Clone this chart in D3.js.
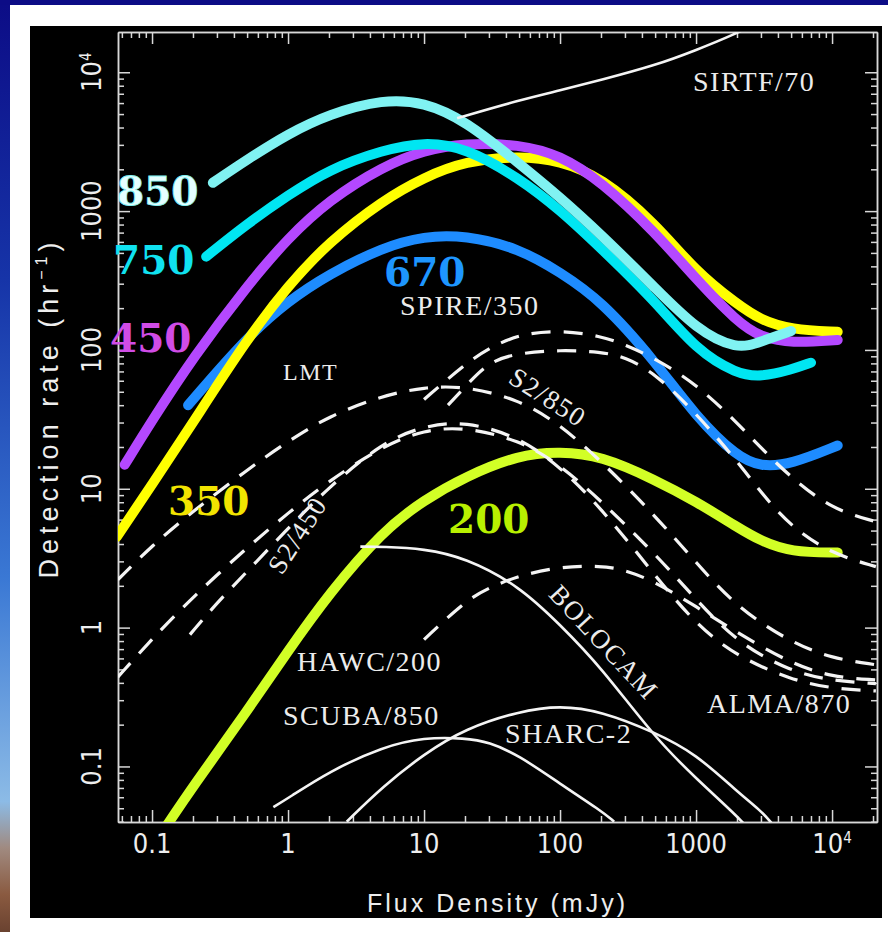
<!DOCTYPE html>
<html>
<head>
<meta charset="utf-8">
<script src="https://cdn.jsdelivr.net/npm/d3@7"></script>
<style>
  html, body { margin: 0; padding: 0; background: #fff; }
  svg { display: block; }
</style>
</head>
<body>
<svg id="chart" width="888" height="932"></svg>
<script>
// ---------------- data: detection rate (hr^-1) versus flux density (mJy) ----------------
// colour-coded wavelength curves (µm)
const flux850 = [0.28, 0.5, 1, 2, 5, 10, 20, 50, 100, 200, 500, 1000, 2000, 3000, 5000];
const rate850 = [1600, 2350, 3600, 5000, 6400, 6100, 4500, 2210, 1260, 680, 280, 141, 100, 115, 137];

const flux750 = [0.25, 0.5, 1, 2, 5, 10, 20, 50, 100, 200, 500, 1000, 2000, 3000, 5000, 7000];
const rate750 = [470, 810, 1300, 2000, 2760, 3150, 2880, 1730, 1020, 540, 225, 100, 67, 64, 72, 81];

const flux450 = [0.063, 0.1, 0.2, 0.5, 1, 2, 5, 10, 20, 50, 100, 200, 500, 1000, 2000, 3000, 5000, 11000];
const rate450 = [14.9, 31, 88, 290, 640, 1200, 2100, 2750, 3080, 3030, 2530, 1640, 705, 323, 160, 123, 112, 118];

const flux350 = [0.055, 0.1, 0.2, 0.5, 1, 2, 5, 10, 20, 50, 100, 200, 500, 1000, 2000, 3000, 5000, 11000];
const rate350 = [4.5, 10.7, 30, 120, 290, 600, 1200, 1750, 2290, 2500, 2300, 1760, 820, 365, 214, 164, 140, 135];

const flux670 = [0.184, 0.2, 0.5, 1, 2, 5, 10, 20, 50, 100, 200, 500, 1000, 2000, 3000, 5000, 11000];
const rate670 = [40, 44, 124, 225, 352, 550, 660, 670, 540, 363, 228, 83, 33, 17, 14.4, 15, 20.5];

const flux200 = [0.115, 0.2, 0.5, 1, 2, 5, 10, 20, 50, 100, 200, 500, 1000, 2000, 3000, 5000, 11000];
const rate200 = [0.032, 0.072, 0.25, 0.68, 1.76, 5.0, 8.3, 12.2, 17.6, 18.5, 17.3, 11.6, 8.1, 5.3, 4.2, 3.5, 3.47];

// existing / planned instruments, solid lines
const fluxSIRTF = [17.5, 50, 100, 200, 500, 1000, 2000, 2500];
const rateSIRTF = [4670, 6300, 7400, 8800, 11200, 14400, 19100, 21500];

const fluxBOLOCAM = [3.4, 5, 10, 20, 50, 100, 200, 500, 1000, 2000, 2400];
const rateBOLOCAM = [3.83, 3.83, 3.7, 3.2, 2.0, 1.05, 0.52, 0.16, 0.082, 0.044, 0.036];

const fluxSCUBA = [0.78, 1, 2, 5, 10, 20, 30, 50, 100, 200, 250];
const rateSCUBA = [0.051, 0.059, 0.092, 0.139, 0.162, 0.16, 0.15, 0.12, 0.075, 0.048, 0.04];

const fluxSHARC = [2.7, 5, 10, 20, 50, 100, 200, 500, 1000, 2000, 3000, 3600];
const rateSHARC = [0.04, 0.072, 0.123, 0.187, 0.25, 0.275, 0.25, 0.176, 0.123, 0.066, 0.048, 0.039];

// dashed instruments
const fluxSPIRE = [10, 20, 30, 50, 100, 200, 300, 500, 1000, 2000, 3000, 5000, 10000, 21000];
const rateSPIRE = [44, 79, 103, 130, 139, 126, 109, 87, 57, 30, 19.7, 12, 7.1, 5.8];

const fluxSPIREb = [15, 20, 30, 50, 100, 200, 300, 500, 1000, 2000, 3000, 5000, 10000, 21000];
const rateSPIREb = [40, 54, 83, 95, 100, 97, 89, 68, 35, 15.9, 9.4, 5.3, 3.4, 2.75];

const fluxLMT = [0.056, 0.1, 0.2, 0.5, 1, 2, 5, 10, 20, 50, 100, 200, 500, 1000, 2000, 5000, 10000, 21000];
const rateLMT = [2.21, 3.9, 6.9, 13.7, 22, 33.5, 47, 54, 55, 44, 29, 15.9, 6.4, 2.94, 1.39, 0.78, 0.60, 0.54];

const fluxS2_850 = [0.056, 0.1, 0.2, 0.5, 1, 2, 5, 10, 20, 50, 100, 200, 500, 1000, 2000, 5000, 10000, 21000];
const rateS2_850 = [0.44, 0.83, 1.67, 3.77, 6.7, 11.4, 20.4, 26.6, 27.9, 22.5, 14.9, 8.2, 3.4, 1.59, 0.78, 0.48, 0.415, 0.395];

const fluxS2_450 = [0.19, 0.3, 0.5, 1, 2, 5, 10, 20, 50, 100, 200, 500, 1000, 2000, 5000, 10000, 21000];
const rateS2_450 = [0.89, 1.51, 2.53, 5.2, 10.3, 21.8, 28.4, 30.8, 23.7, 14.4, 7.3, 2.37, 1.05, 0.62, 0.42, 0.364, 0.35];

const fluxALMA = [10, 20, 30, 50, 100, 200, 300, 500, 1000, 2000, 5000, 10000, 21000];
const rateALMA = [0.82, 1.55, 1.94, 2.37, 2.75, 2.79, 2.61, 2.14, 1.42, 0.92, 0.55, 0.44, 0.42];

// axis ticks
const xMajor = [0.1, 1, 10, 100, 1000, 10000];
const xTickLabels = ["0.1", "1", "10", "100", "1000", "10^4"];
const yMajor = [0.1, 1, 10, 100, 1000, 10000];
const yTickLabels = ["0.1", "1", "10", "100", "1000", "10^4"];

// ---------------- layout ----------------
const svg = d3.select("#chart");
const plot = { left: 118, right: 877, top: 32, bottom: 822 };

const x = d3.scaleLog().domain([0.0562, 21400]).range([plot.left, plot.right]);
const y = d3.scaleLog().domain([0.0398, 19500]).range([plot.bottom, plot.top]);

const zip = (a, b) => a.map((v, i) => [v, b[i]]);

// slide backdrop: blue strip down the left, thin top bar, white matte, black panel
const defs = svg.append("defs");
const grad = defs.append("linearGradient").attr("id", "slideBg")
  .attr("x1", 0).attr("y1", 0).attr("x2", 0).attr("y2", 1);
[[0, "#0c0c86"], [0.3, "#1634a8"], [0.62, "#3a78d4"], [0.86, "#8cbbe6"],
 [0.91, "#a08a80"], [0.96, "#8a5a40"], [1, "#6a4230"]]
  .forEach(([o, c]) => grad.append("stop").attr("offset", o).attr("stop-color", c));

svg.append("rect").attr("width", 888).attr("height", 932).attr("fill", "url(#slideBg)");
svg.append("rect").attr("width", 888).attr("height", 5).attr("fill", "#0c0c86");
svg.append("rect").attr("x", 10).attr("y", 5).attr("width", 878).attr("height", 927).attr("fill", "#ffffff");
svg.append("rect").attr("x", 30).attr("y", 26).attr("width", 852).attr("height", 892).attr("fill", "#000000");

defs.append("clipPath").attr("id", "plotClip")
  .append("rect")
  .attr("x", plot.left).attr("y", plot.top)
  .attr("width", plot.right - plot.left).attr("height", plot.bottom - plot.top);

// ---------------- axes ----------------
const axisColour = "#d8d8d8";
const minorX = x.ticks().filter(v => !xMajor.includes(v));
const minorY = y.ticks().filter(v => !yMajor.some(m => Math.abs(m - v) / m < 1e-9));

function styleAxis(g) {
  g.selectAll("path.domain").attr("stroke", axisColour).attr("stroke-width", 1.5);
  g.selectAll(".tick line").attr("stroke", axisColour).attr("stroke-width", 1.5);
}

const axes = svg.append("g");
const axisDefs = [
  [d3.axisBottom(x), `translate(0,${plot.bottom})`, minorX, xMajor],
  [d3.axisTop(x), `translate(0,${plot.top})`, minorX, xMajor],
  [d3.axisLeft(y), `translate(${plot.left},0)`, minorY, yMajor],
  [d3.axisRight(y), `translate(${plot.right},0)`, minorY, yMajor]
];
axisDefs.forEach(([ax, tr, minors, majors]) => {
  axes.append("g").attr("transform", tr)
    .call(ax.tickValues(minors).tickSize(-6).tickSizeOuter(0).tickFormat(""))
    .call(styleAxis);
  axes.append("g").attr("transform", tr)
    .call(ax.tickValues(majors).tickSize(-12).tickSizeOuter(0).tickFormat(""))
    .call(styleAxis);
});

function powerText(sel, label, supSize, supShift) {
  const parts = label.split("^");
  sel.text(parts[0]);
  if (parts[1] !== undefined) {
    sel.append("tspan").attr("dy", -supShift).attr("font-size", supSize).text(parts[1]);
  }
}

const tickFont = "'Liberation Sans Narrow', 'DejaVu Sans Condensed', 'Liberation Sans', sans-serif";

// x tick labels
xMajor.forEach((v, i) => {
  svg.append("text")
    .attr("x", x(v)).attr("y", plot.bottom + 31)
    .attr("text-anchor", "middle")
    .attr("font-family", tickFont).attr("font-size", 27)
    .attr("fill", "#eeeeee")
    .call(s => powerText(s, xTickLabels[i], 15, 10));
});

// y tick labels, rotated
yMajor.forEach((v, i) => {
  svg.append("text")
    .attr("transform", `translate(${plot.left - 17},${y(v)}) rotate(-90)`)
    .attr("text-anchor", "middle")
    .attr("font-family", tickFont).attr("font-size", 27)
    .attr("fill", "#eeeeee")
    .call(s => powerText(s, yTickLabels[i], 15, 10));
});

// axis titles
const titleFont = "'Liberation Sans', 'DejaVu Sans', sans-serif";
svg.append("text")
  .attr("x", (plot.left + plot.right) / 2).attr("y", 912)
  .attr("text-anchor", "middle")
  .attr("font-family", titleFont).attr("font-size", 25)
  .attr("letter-spacing", 3)
  .attr("fill", "#eeeeee")
  .text("Flux Density (mJy)");

const yTitle = svg.append("text")
  .attr("transform", `translate(58,408) rotate(-90)`)
  .attr("text-anchor", "middle")
  .attr("font-family", titleFont).attr("font-size", 27)
  .attr("letter-spacing", 5)
  .attr("fill", "#eeeeee");
yTitle.append("tspan").text("Detection rate (hr");
yTitle.append("tspan").attr("dy", -11).attr("font-size", 16).text("−1");
yTitle.append("tspan").attr("dy", 11).text(")");

// ---------------- curves ----------------
const line = d3.line()
  .x(d => x(d[0]))
  .y(d => y(d[1]))
  .curve(d3.curveBasis);

const curves = svg.append("g").attr("clip-path", "url(#plotClip)");

const colouredSeries = [
  { key: "200", data: zip(flux200, rate200), colour: "#d2ff26" },
  { key: "670", data: zip(flux670, rate670), colour: "#1e8cff" },
  { key: "350", data: zip(flux350, rate350), colour: "#ffff00" },
  { key: "450", data: zip(flux450, rate450), colour: "#b448ff" },
  { key: "750", data: zip(flux750, rate750), colour: "#00e6f2" },
  { key: "850", data: zip(flux850, rate850), colour: "#80f2f2" }
];
curves.selectAll("path.band")
  .data(colouredSeries)
  .join("path")
  .attr("class", "band")
  .attr("d", d => line(d.data))
  .attr("fill", "none")
  .attr("stroke", d => d.colour)
  .attr("stroke-width", 10)
  .attr("stroke-linecap", "round")
  .attr("stroke-linejoin", "round");

const solidSeries = [
  { key: "SIRTF/70", data: zip(fluxSIRTF, rateSIRTF) },
  { key: "BOLOCAM", data: zip(fluxBOLOCAM, rateBOLOCAM) },
  { key: "SCUBA/850", data: zip(fluxSCUBA, rateSCUBA) },
  { key: "SHARC-2", data: zip(fluxSHARC, rateSHARC) }
];
curves.selectAll("path.solid")
  .data(solidSeries)
  .join("path")
  .attr("class", "solid")
  .attr("d", d => line(d.data))
  .attr("fill", "none")
  .attr("stroke", "#f4f4f4")
  .attr("stroke-width", 2.6);

const dashedSeries = [
  { key: "SPIRE/350", data: zip(fluxSPIRE, rateSPIRE) },
  { key: "SPIRE/350 b", data: zip(fluxSPIREb, rateSPIREb) },
  { key: "LMT", data: zip(fluxLMT, rateLMT) },
  { key: "S2/850", data: zip(fluxS2_850, rateS2_850) },
  { key: "S2/450", data: zip(fluxS2_450, rateS2_450) },
  { key: "ALMA/870", data: zip(fluxALMA, rateALMA) }
];
curves.selectAll("path.dashed")
  .data(dashedSeries)
  .join("path")
  .attr("class", "dashed")
  .attr("d", d => line(d.data))
  .attr("fill", "none")
  .attr("stroke", "#f4f4f4")
  .attr("stroke-width", 3.2)
  .attr("stroke-dasharray", "19,13");

// ---------------- labels ----------------
const bigLabels = [
  { text: "850", x: 117, y: 205, fill: "#e6ffff", stroke: "#7ff0f0" },
  { text: "750", x: 113, y: 274, fill: "#10e2f0", stroke: "none" },
  { text: "450", x: 110, y: 352, fill: "#d04ce6", stroke: "none" },
  { text: "350", x: 168, y: 515, fill: "#f2e400", stroke: "none" },
  { text: "200", x: 448, y: 533, fill: "#b8f000", stroke: "none" },
  { text: "670", x: 384, y: 286, fill: "#1e96ff", stroke: "none" }
];
svg.selectAll("text.big")
  .data(bigLabels)
  .join("text")
  .attr("class", "big")
  .attr("x", d => d.x).attr("y", d => d.y)
  .attr("font-family", "'DejaVu Serif', 'Liberation Serif', serif")
  .attr("font-weight", "bold")
  .attr("font-size", 39)
  .attr("fill", d => d.fill)
  .attr("stroke", d => d.stroke)
  .attr("stroke-width", 0.8)
  .text(d => d.text);

const instrumentLabels = [
  { text: "SIRTF/70", x: 693, y: 91, size: 28 },
  { text: "SPIRE/350", x: 400, y: 315, size: 28 },
  { text: "LMT", x: 283, y: 380, size: 24 },
  { text: "HAWC/200", x: 297, y: 671, size: 28 },
  { text: "SCUBA/850", x: 283, y: 725, size: 28 },
  { text: "SHARC-2", x: 505, y: 743, size: 28 },
  { text: "ALMA/870", x: 707, y: 713, size: 28 }
];
svg.selectAll("text.inst")
  .data(instrumentLabels)
  .join("text")
  .attr("class", "inst")
  .attr("x", d => d.x).attr("y", d => d.y)
  .attr("font-family", "'Liberation Serif', 'DejaVu Serif', serif")
  .attr("font-size", d => d.size)
  .attr("letter-spacing", 1.5)
  .attr("fill", "#ececec")
  .text(d => d.text);

const rotatedLabels = [
  { text: "S2/850", cx: 548, cy: 397, angle: 33 },
  { text: "S2/450", cx: 297, cy: 535, angle: -57 },
  { text: "BOLOCAM", cx: 604, cy: 642, angle: 47 }
];
svg.selectAll("text.rot")
  .data(rotatedLabels)
  .join("text")
  .attr("class", "rot")
  .attr("transform", d => `translate(${d.cx},${d.cy}) rotate(${d.angle})`)
  .attr("text-anchor", "middle")
  .attr("dy", "0.35em")
  .attr("font-family", "'Liberation Serif', 'DejaVu Serif', serif")
  .attr("font-size", 27)
  .attr("letter-spacing", 1.5)
  .attr("fill", "#ececec")
  .text(d => d.text);
</script>
</body>
</html>
